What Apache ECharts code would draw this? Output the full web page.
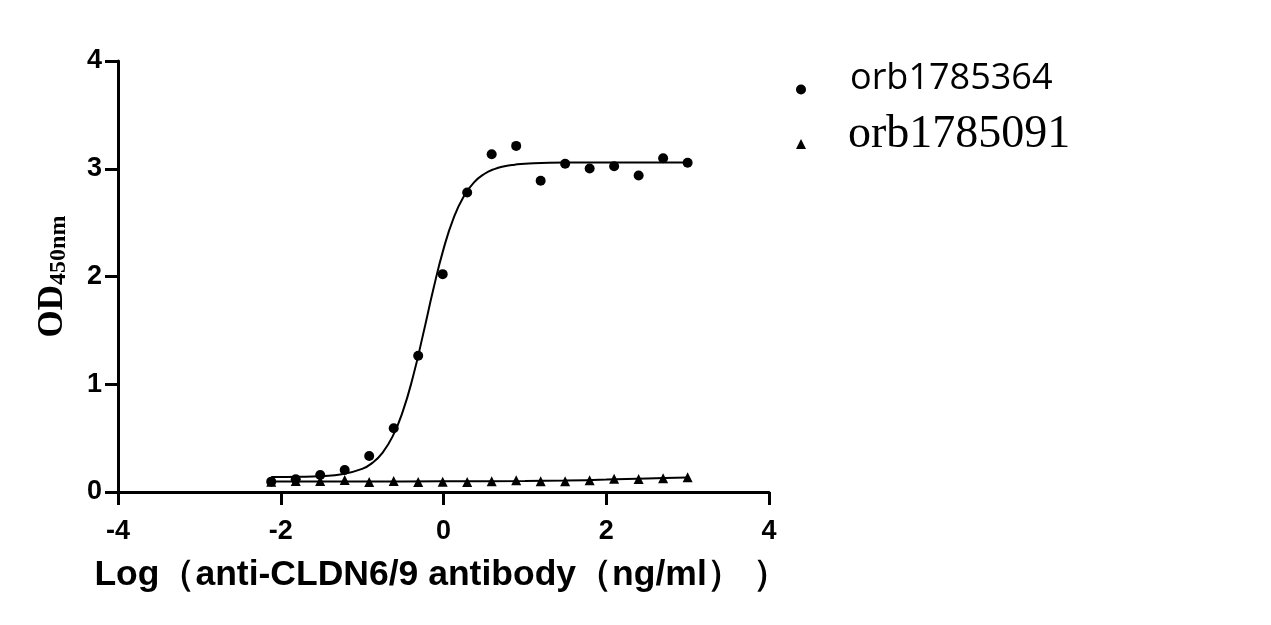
<!DOCTYPE html>
<html>
<head>
<meta charset="utf-8">
<script src="https://cdn.jsdelivr.net/npm/echarts@6/dist/echarts.min.js"></script>
<style>
html,body{margin:0;padding:0;background:#fff;}
#chart{width:1271px;height:625px;}
</style>
</head>
<body>
<div id="chart"></div>
<script>
// Log concentration (ng/ml), two-fold dilution series
const logConc = [-2.117, -1.816, -1.515, -1.214, -0.913, -0.612, -0.311, -0.010, 0.291, 0.592, 0.893, 1.194, 1.495, 1.796, 2.097, 2.398, 2.699, 3.0];
// OD450 readings
const od1785364 = [0.096, 0.118, 0.158, 0.204, 0.334, 0.591, 1.264, 2.022, 2.780, 3.135, 3.212, 2.888, 3.046, 3.003, 3.024, 2.938, 3.098, 3.055];
const od1785091 = [0.096, 0.102, 0.102, 0.111, 0.093, 0.102, 0.093, 0.096, 0.093, 0.099, 0.108, 0.099, 0.099, 0.108, 0.124, 0.121, 0.127, 0.136];
// fitted curves
const fitX1 = [-2.117, -1.75, -1.5, -1.25, -1.0, -0.875, -0.75, -0.625, -0.5, -0.375, -0.25, -0.125, 0, 0.125, 0.25, 0.375, 0.5, 0.625, 0.75, 0.875, 1.0, 1.5, 2.0, 2.5, 3.0];
const fitY1 = [0.140, 0.142, 0.148, 0.164, 0.215, 0.270, 0.364, 0.516, 0.748, 1.070, 1.465, 1.881, 2.254, 2.544, 2.745, 2.873, 2.951, 2.997, 3.023, 3.038, 3.047, 3.057, 3.058, 3.058, 3.058];
const fitX2 = [-2.117, -1.0, 0, 1.0, 1.5, 2.0, 2.5, 3.0];
const fitY2 = [0.097, 0.098, 0.099, 0.102, 0.106, 0.115, 0.126, 0.135];
const seriesNames = ['orb1785364', 'orb1785091'];
const xAxisTitle = 'Log（anti-CLDN6/9 antibody（ng/ml） ）';

const chart = echarts.init(document.getElementById('chart'), null, {renderer: 'canvas'});
const tickStyle = {show: true, length: 13, lineStyle: {color: '#000', width: 3}};
chart.setOption({
  animation: false,
  backgroundColor: '#fff',
  grid: {left: 118, right: 502, top: 61, bottom: 133, containLabel: false},
  xAxis: {
    type: 'value', min: -4, max: 4, interval: 2,
    axisLine: {show: true, onZero: false, lineStyle: {color: '#000', width: 3}},
    axisTick: tickStyle, splitLine: {show: false},
    axisLabel: {color: '#000', fontFamily: 'Liberation Sans', fontWeight: 'bold', fontSize: 27, margin: 26},
    name: xAxisTitle, nameLocation: 'middle', nameGap: 65,
    nameTextStyle: {color: '#000', fontFamily: 'Liberation Sans', fontWeight: 'bold', fontSize: 35.5, lineHeight: 36, padding: [0, 4, 0, 0]}
  },
  yAxis: {
    type: 'value', min: 0, max: 4, interval: 1,
    axisLine: {show: true, onZero: false, lineStyle: {color: '#000', width: 3}},
    axisTick: tickStyle, splitLine: {show: false},
    axisLabel: {color: '#000', fontFamily: 'Liberation Sans', fontWeight: 'bold', fontSize: 27, margin: 16},
    name: '{a|OD}{b|450nm}', nameLocation: 'middle', nameRotate: 90, nameGap: 44,
    nameTextStyle: {
      color: '#000',
      rich: {
        a: {fontFamily: 'Liberation Serif', fontWeight: 'bold', fontSize: 35, lineHeight: 36, padding: [0, 0, 6, 0], verticalAlign: 'top', color: '#000'},
        b: {fontFamily: 'Liberation Serif', fontWeight: 'bold', fontSize: 24, lineHeight: 24, verticalAlign: 'bottom', color: '#000'}
      }
    }
  },
  legend: [
    {
      data: [{name: seriesNames[0], icon: 'circle'}],
      left: 796, top: 61, orient: 'vertical', padding: 0,
      itemWidth: 10, itemHeight: 10, selectedMode: false,
      formatter: '{t|{name}}',
      textStyle: {rich: {t: {fontFamily: 'Open Sans', fontSize: 36, lineHeight: 40, color: '#000', padding: [0, 0, 21, 39]}}}
    },
    {
      data: [{name: seriesNames[1], icon: 'triangle'}],
      left: 796, top: 112, orient: 'vertical', padding: 0,
      itemWidth: 10, itemHeight: 10, selectedMode: false,
      formatter: '{t|{name}}',
      textStyle: {rich: {t: {fontFamily: 'Liberation Serif', fontSize: 46, lineHeight: 48, color: '#000', padding: [0, 0, 18, 37]}}}
    }
  ],
  series: [
    {
      type: 'line', name: 'fit1', data: fitX1.map((x, i) => [x, fitY1[i]]),
      symbol: 'none', smooth: 0.5, silent: true,
      lineStyle: {color: '#000', width: 2}, z: 2
    },
    {
      type: 'line', name: 'fit2', data: fitX2.map((x, i) => [x, fitY2[i]]),
      symbol: 'none', smooth: 0.3, silent: true,
      lineStyle: {color: '#000', width: 2}, z: 2
    },
    {
      type: 'scatter', name: seriesNames[0], symbol: 'circle', symbolSize: 10,
      itemStyle: {color: '#000', opacity: 1}, data: logConc.map((x, i) => [x, od1785364[i]]), z: 3
    },
    {
      type: 'scatter', name: seriesNames[1], symbol: 'triangle', symbolSize: 10,
      itemStyle: {color: '#000', opacity: 1}, data: logConc.map((x, i) => [x, od1785091[i]]), z: 4
    }
  ]
});
</script>
</body>
</html>
